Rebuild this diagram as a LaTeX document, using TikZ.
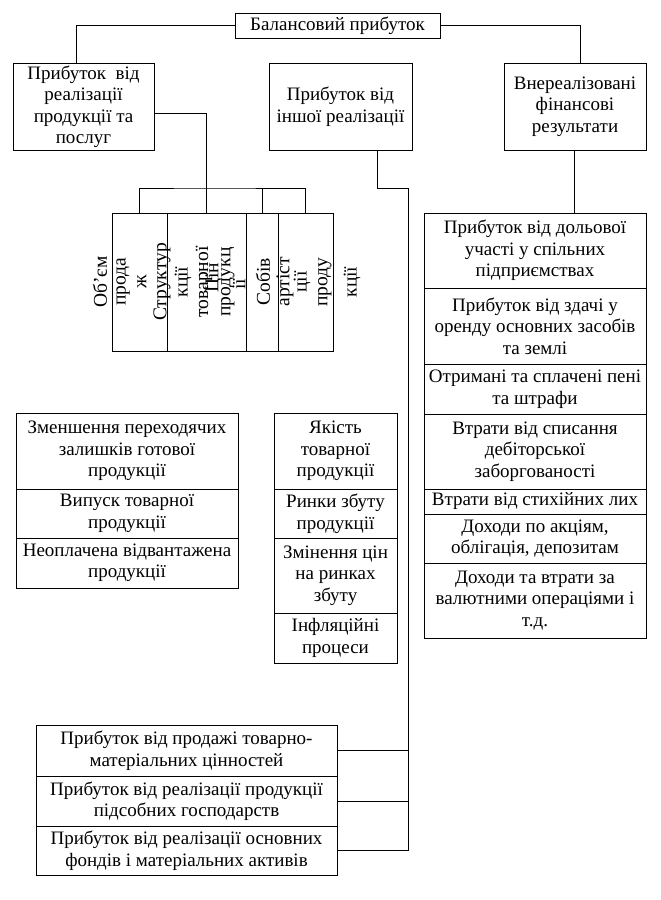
\documentclass[tikz,border=0pt]{standalone}
\usepackage{fontspec}
\setmainfont{Liberation Serif}
\usetikzlibrary{positioning}

\begin{document}
\begin{tikzpicture}[x=1pt,y=-1pt,
    cell/.style={draw, align=center, inner sep=0pt, font=\fontsize{19}{21.5}\selectfont},
    vtext/.style={rotate=90, inner sep=0pt, font=\fontsize{19.5}{21.5}\selectfont}]
    \useasboundingbox (0,0) rectangle (661,900);

    % Верхній рівень
    \node[cell, minimum width=205pt, minimum height=25pt] (bal) at (337.5,25.5) {Балансовий прибуток};
    \node[cell, minimum width=141pt, minimum height=87pt] (real) at (83.5,106.5) {Прибуток~ від\\реалізації\\продукції та\\послуг};
    \node[cell, minimum width=143pt, minimum height=87pt] (oth) at (340.5,106.5) {Прибуток від\\іншої реалізації};
    \node[cell, minimum width=142pt, minimum height=87pt] (vnr) at (575,106.5) {Внереалізовані\\фінансові\\результати};

    % Повернуті прямокутники
    \node[draw, minimum width=55pt, minimum height=138pt] (b1) at (139.5,282) {};
    \node[draw, minimum width=79pt, minimum height=138pt] (b2) at (206.5,282) {};
    \node[draw, minimum width=32pt, minimum height=138pt] (b3) at (262,282) {};
    \node[draw, minimum width=55pt, minimum height=138pt] (b4) at (305.5,282) {};

    % Повернутий текст
    \node[vtext] (v1) at (100,282) {Об'єм};
    \node[vtext] (v2) at (123,282) {прода};
    \node[vtext] (v3) at (142,282) {ж};
    \node[vtext] (v4) at (162,282) {Структур};
    \node[vtext] (v5) at (183,282) {кції};
    \node[vtext] (v6) at (204,282) {товарної};
    \node[vtext] (v7) at (214,278) {Цін};
    \node[vtext] (v8) at (228,282) {продукц};
    \node[vtext] (v9) at (239,284) {ії};
    \node[vtext] (v10) at (263,282) {Собів};
    \node[vtext] (v11) at (285,282) {артіст};
    \node[vtext] (v12) at (302,282) {ції};
    \node[vtext] (v13) at (325,282) {проду};
    \node[vtext] (v14) at (352,282) {кції};

    % Фактори ліворуч
    \node[cell, minimum width=222pt, minimum height=76pt] (z1) at (127,451) {Зменшення переходячих\\залишків готової\\продукції};
    \node[cell, minimum width=222pt, minimum height=49pt] (z2) at (127,513.5) {Випуск товарної\\продукції};
    \node[cell, minimum width=222pt, minimum height=50pt] (z3) at (127,563) {Неоплачена відвантажена\\продукції};

    % Фактори посередині
    \node[cell, minimum width=123pt, minimum height=76pt] (m1) at (335.5,451) {Якість\\товарної\\продукції};
    \node[cell, minimum width=123pt, minimum height=49pt] (m2) at (335.5,513.5) {Ринки збуту\\продукції};
    \node[cell, minimum width=123pt, minimum height=75pt] (m3) at (335.5,575.5) {Змінення цін\\на ринках\\збуту};
    \node[cell, minimum width=123pt, minimum height=50pt] (m4) at (335.5,638) {Інфляційні\\процеси};

    % Позареалізаційні результати
    \node[cell, minimum width=222pt, minimum height=75pt] (f1) at (535,250.5) {Прибуток від дольової\\участі у спільних\\підприємствах};
    \node[cell, minimum width=222pt, minimum height=76pt] (f2) at (535,326) {Прибуток від здачі у\\оренду основних засобів\\та землі};
    \node[cell, minimum width=222pt, minimum height=50pt] (f3) at (535,389) {Отримані та сплачені пені\\та штрафи};
    \node[cell, minimum width=222pt, minimum height=75pt] (f4) at (535,451.5) {Втрати від списання\\дебіторської\\заборгованості};
    \node[cell, minimum width=222pt, minimum height=25pt] (f5) at (535,501.5) {Втрати від стихійних лих};
    \node[cell, minimum width=222pt, minimum height=49pt] (f6) at (535,538.5) {Доходи по акціям,\\облігація, депозитам};
    \node[cell, minimum width=222pt, minimum height=75pt] (f7) at (535,600.5) {Доходи та втрати за\\валютними операціями і\\т.д.};

    % Інша реалізація
    \node[cell, minimum width=301pt, minimum height=51pt] (p1) at (186.5,750.5) {Прибуток від продажі товарно-\\матеріальних цінностей};
    \node[cell, minimum width=301pt, minimum height=50pt] (p2) at (186.5,801) {Прибуток від реалізації продукції\\підсобних господарств};
    \node[cell, minimum width=301pt, minimum height=49pt] (p3) at (186.5,850.5) {Прибуток від реалізації основних\\фондів і матеріальних активів};

    % Зв'язки
    \coordinate (bus) at (207,188);
    \coordinate (trunk) at (408,188);
    \draw (bal.west) -| ([xshift=-7.5pt]real.north);
    \draw (bal.east) -| ([xshift=5pt]vnr.north);
    \draw ([yshift=-6.5pt]real.east) -| (b2.north);
    \draw (b1.north) |- (bus) -| (b4.north);
    \draw (b3.north) -- (b3.north |- bus);
    \draw ([xshift=36.5pt]oth.south) |- (trunk) |- (p3.east);
    \draw (p1.east) -- (p1.east -| trunk);
    \draw (p2.east) -- (p2.east -| trunk);
    \draw ([xshift=-1pt]vnr.south) -- ([xshift=-1pt]vnr.south |- f1.north);
\end{tikzpicture}
\end{document}
